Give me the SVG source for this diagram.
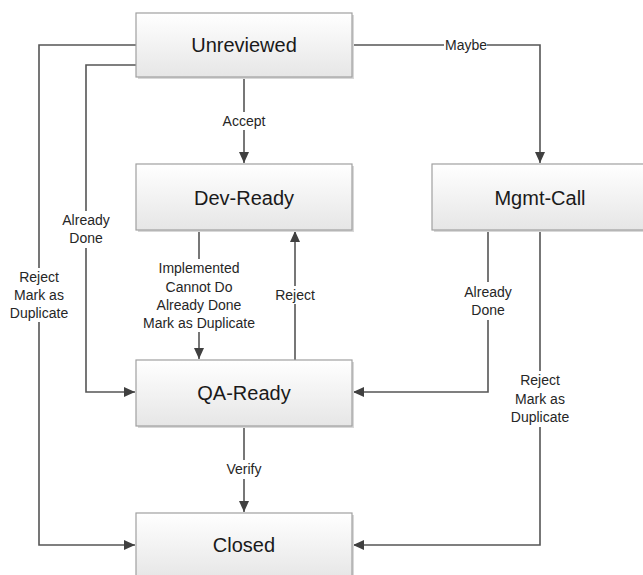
<svg xmlns="http://www.w3.org/2000/svg" width="643" height="575" viewBox="0 0 643 575">
<defs>
<linearGradient id="g" x1="0" y1="0" x2="0" y2="1">
<stop offset="0" stop-color="#ffffff"/>
<stop offset="1" stop-color="#e6e6e6"/>
</linearGradient>
<marker id="ah" markerUnits="userSpaceOnUse" markerWidth="12" markerHeight="10" refX="11" refY="5" orient="auto">
<path d="M0,0 L11,5 L0,10 Z" fill="#404040"/>
</marker>
<style>
.box{fill:url(#g);stroke:#a0a0a0;stroke-width:1.2}
.sh{fill:#d8d8d8}
.t{font-family:"Liberation Sans",Arial,sans-serif;font-size:20px;fill:#1a1a1a;text-anchor:middle}
.l{font-family:"Liberation Sans",Arial,sans-serif;font-size:14px;fill:#262626;text-anchor:middle}
.c{fill:none;stroke:#555555;stroke-width:1.6}
.a{marker-end:url(#ah)}
.bg{fill:#ffffff}
</style>
</defs>
<g id="connectors">
<path class="c a" d="M244,77 V163"/>
<path class="c a" d="M352,45 H540 V163"/>
<path class="c a" d="M136,45 H39 V545 H135"/>
<path class="c a" d="M136,65 H86 V392 H135"/>
<path class="c a" d="M199,230 V359"/>
<path class="c a" d="M295,360 V231"/>
<path class="c a" d="M488,230 V392 H353"/>
<path class="c a" d="M540,230 V545 H353"/>
<path class="c a" d="M244,426 V512"/>
<rect class="bg" x="221" y="112" width="46" height="18"/>
<text class="l" x="244" y="126">Accept</text>
<rect class="bg" x="444" y="37" width="43" height="16"/>
<text class="l" x="466" y="50">Maybe</text>
<rect class="bg" x="9" y="268" width="60" height="54"/>
<text class="l" x="39" y="282">Reject</text>
<text class="l" x="39" y="300">Mark as</text>
<text class="l" x="39" y="318">Duplicate</text>
<rect class="bg" x="60" y="211" width="52" height="37"/>
<text class="l" x="86" y="225">Already</text>
<text class="l" x="86" y="243">Done</text>
<rect class="bg" x="141" y="259" width="116" height="73"/>
<text class="l" x="199" y="273">Implemented</text>
<text class="l" x="199" y="292">Cannot Do</text>
<text class="l" x="199" y="310">Already Done</text>
<text class="l" x="199" y="328">Mark as Duplicate</text>
<rect class="bg" x="274" y="286" width="42" height="18"/>
<text class="l" x="295" y="300">Reject</text>
<rect class="bg" x="462" y="282" width="52" height="38"/>
<text class="l" x="488" y="297">Already</text>
<text class="l" x="488" y="315">Done</text>
<rect class="bg" x="510" y="371" width="60" height="56"/>
<text class="l" x="540" y="385">Reject</text>
<text class="l" x="540" y="404">Mark as</text>
<text class="l" x="540" y="422">Duplicate</text>
<rect class="bg" x="226" y="460" width="36" height="19"/>
<text class="l" x="244" y="474">Verify</text>
</g>
<g id="unreviewed">
<rect class="sh" x="138" y="15" width="216" height="64"/>
<rect class="box" x="136" y="13" width="216" height="64"/>
<text class="t" x="244" y="52">Unreviewed</text>
</g>
<g id="dev-ready">
<rect class="sh" x="138" y="166" width="216" height="66"/>
<rect class="box" x="136" y="164" width="216" height="66"/>
<text class="t" x="244" y="205">Dev-Ready</text>
</g>
<g id="mgmt-call">
<rect class="sh" x="434" y="166" width="216" height="66"/>
<rect class="box" x="432" y="164" width="216" height="66"/>
<text class="t" x="540" y="205">Mgmt-Call</text>
</g>
<g id="qa-ready">
<rect class="sh" x="138" y="362" width="216" height="66"/>
<rect class="box" x="136" y="360" width="216" height="66"/>
<text class="t" x="244" y="400">QA-Ready</text>
</g>
<g id="closed">
<rect class="sh" x="138" y="515" width="216" height="66"/>
<rect class="box" x="136" y="513" width="216" height="66"/>
<text class="t" x="244" y="552">Closed</text>
</g>
</svg>
